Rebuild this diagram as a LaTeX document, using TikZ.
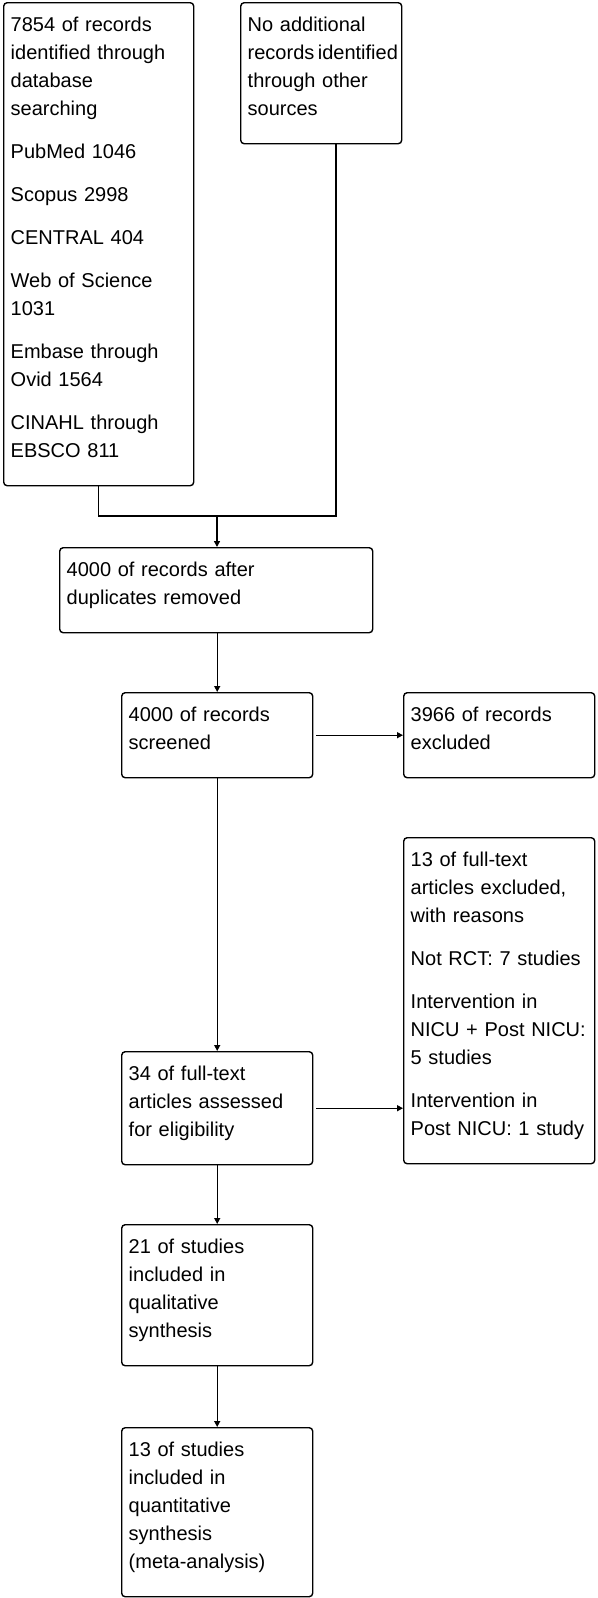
\documentclass[tikz,border=0pt]{standalone}
\usepackage{fontspec}
\setmainfont{Liberation Sans}
\usetikzlibrary{arrows.meta}

\begin{document}
\begin{tikzpicture}[x=1pt, y=-1pt,
    every node/.style={font=\fontsize{20pt}{28pt}\selectfont},
    flowbox/.style={draw, line width=1.4pt, rounded corners=3.5pt, anchor=north west,
      align=left, text width=#1, inner xsep=7pt, inner ysep=0pt,
      execute at begin node={\rule{0pt}{29pt}}, execute at end node={\rule[-28pt]{0pt}{28pt}}},
    flowarr/.style={-{Triangle[length=6pt,width=6pt]}, line width=1.4pt}]
        \useasboundingbox (0,0) rectangle (597,1598);
        \node[flowbox=176pt] (ident) at (3,2) {7854 of records\\ identified through\\ database\\ searching\\[15pt]
          PubMed 1046\\[15pt] Scopus 2998\\[15pt] CENTRAL 404\\[15pt] Web of Science\\ 1031\\[15pt]
          Embase through\\ Ovid 1564\\[15pt] CINAHL through\\ EBSCO 811};
        \node[flowbox=147pt] (other) at (240,2) {No additional\\ \mbox{records\hspace{3.5pt}identified}\\ through other\\ sources};
        \node[flowbox=299pt] (dedup) at (59,547) {4000 of records after\\ duplicates removed};
        \node[flowbox=177pt] (screen) at (121,692) {4000 of records\\ screened};
        \node[flowbox=177pt] (excl) at (403,692) {3966 of records\\ excluded};
        \node[flowbox=177pt] (ftexcl) at (403,837) {13 of full-text\\ articles excluded,\\ with reasons\\[15pt]
          Not RCT: 7 studies\\[15pt] Intervention in\\ NICU + Post NICU:\\ 5 studies\\[15pt]
          Intervention in\\ Post NICU: 1 study};
        \node[flowbox=177pt] (elig) at (121,1051) {34 of full-text\\ articles assessed\\ for eligibility};
        \node[flowbox=177pt] (qual) at (121,1224) {21 of studies\\ included in\\ qualitative\\ synthesis};
        \node[flowbox=177pt] (quant) at (121,1427) {13 of studies\\ included in\\ quantitative\\ synthesis\\ (meta-analysis)};
        % merge of the two sources
        \coordinate (merge) at (217,516); \coordinate (mergeR) at (336,516);
        \draw[line width=1.4pt] (ident.south) |- (mergeR) -- (mergeR |- other.south);
        \draw[flowarr] (merge) -- (merge |- dedup.north);
        \draw[flowarr] (dedup.south -| screen.north) -- (screen.north);
        \draw[flowarr, shorten <=3pt] (screen.east) -- (excl.west);
        \draw[flowarr] (screen.south) -- (elig.north);
        \draw[flowarr, shorten <=3pt] (elig.east) -- (elig.east -| ftexcl.west);
        \draw[flowarr] (elig.south) -- (qual.north);
        \draw[flowarr] (qual.south) -- (quant.north);
      \end{tikzpicture}
\end{document}
